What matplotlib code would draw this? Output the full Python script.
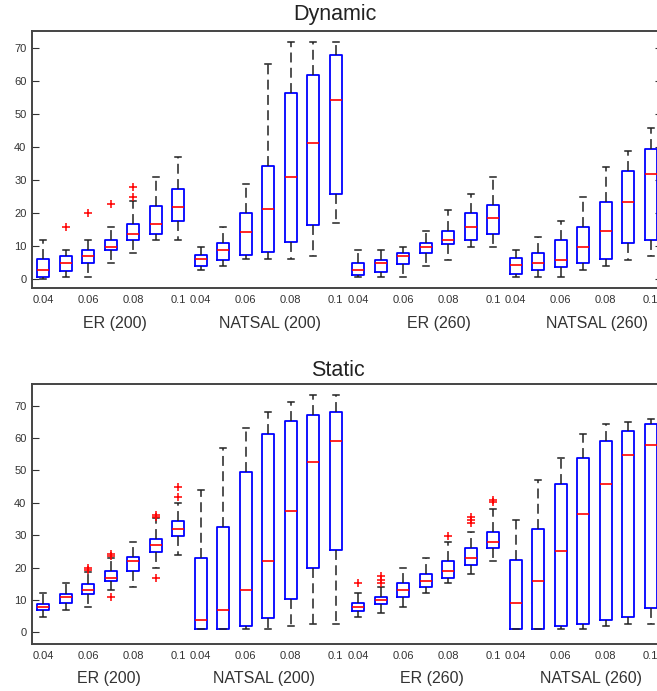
"""
Boxplots of outbreak size vs. transmission rate, dynamic and static networks.
"""

import numpy as np
import matplotlib
matplotlib.use("Agg")
import matplotlib.pyplot as plt
from matplotlib.transforms import blended_transform_factory

plt.rcParams["font.family"] = ["Liberation Sans", "DejaVu Sans"]

rates = ["0.04", "0.05", "0.06", "0.07", "0.08", "0.09", "0.1"]
groups = ["ER (200)", "NATSAL (200)", "ER (260)", "NATSAL (260)"]
tick_labels = ["0.04", "", "0.06", "", "0.08", "", "0.1"]
yticks = [0, 10, 20, 30, 40, 50, 60, 70]

# --- Dynamic ---
dyn_lo = [0, 0.8, 0.8, 5.0, 8.0, 11.9, 11.9,
          2.8, 4.0, 6.1, 6.1, 6.1, 7.1, 17.0,
          0.8, 0.8, 0.8, 4.0, 5.9, 9.9, 9.9,
          0.8, 0.8, 0.8, 2.9, 4.0, 5.9, 7.0]
dyn_q1 = [0.7, 2.4, 4.9, 8.9, 11.8, 13.8, 17.8,
          4.0, 6.0, 7.3, 8.3, 11.2, 16.5, 25.8,
          1.3, 2.3, 4.8, 7.9, 10.8, 11.8, 13.8,
          1.7, 2.7, 3.9, 4.9, 6.2, 10.9, 11.8]
dyn_med = [2.8, 5.0, 7.1, 9.9, 13.8, 16.8, 22.0,
           6.1, 9.0, 14.5, 21.3, 31.0, 41.2, 54.3,
           2.8, 5.0, 7.0, 9.9, 11.8, 15.8, 18.7,
           4.4, 5.1, 5.9, 9.9, 14.8, 23.3, 31.9]
dyn_q3 = [6.1, 7.1, 9.0, 11.9, 16.9, 22.3, 27.3,
          7.4, 10.9, 20.1, 34.4, 56.5, 61.9, 68.0,
          5.0, 5.9, 8.1, 10.9, 14.8, 20.1, 22.4,
          6.4, 8.1, 11.9, 15.8, 23.3, 32.8, 39.4]
dyn_hi = [11.9, 8.9, 11.9, 15.8, 23.8, 30.9, 37.1,
          9.9, 15.9, 28.9, 65.1, 72.0, 72.0, 71.9,
          8.9, 8.9, 9.9, 14.8, 21.0, 25.8, 30.9,
          8.9, 12.9, 17.8, 24.9, 33.9, 39.0, 45.8]
dyn_out = [[], [15.8], [20.0], [22.9], [24.8, 27.9], [], [],
           [], [], [], [], [], [], [],
           [], [], [], [], [], [], [],
           [], [], [], [], [], [], []]

# --- Static ---
sta_lo = [4.8, 6.9, 7.9, 13.0, 14.0, 20.0, 24.0,
          0.9, 0.9, 0.9, 0.9, 2.0, 2.7, 2.7,
          4.8, 5.9, 7.9, 12.0, 15.1, 17.9, 21.9,
          1.0, 1.0, 1.0, 1.0, 2.0, 2.7, 2.7]
sta_q1 = [6.9, 9.0, 11.9, 15.8, 19.0, 24.9, 29.9,
          0.9, 0.9, 2.0, 4.4, 10.2, 19.9, 25.4,
          6.7, 8.8, 10.9, 14.0, 16.7, 20.9, 25.9,
          1.0, 1.0, 1.85, 2.7, 3.7, 4.7, 7.4]
sta_med = [7.9, 11.0, 13.0, 16.8, 22.0, 27.1, 31.9,
           3.8, 6.9, 13.1, 21.9, 37.5, 52.5, 59.0,
           7.9, 10.0, 13.1, 15.8, 18.9, 23.0, 27.8,
           9.0, 15.8, 25.1, 36.4, 45.7, 54.9, 58.0]
sta_q3 = [8.85, 11.9, 15.0, 18.9, 23.4, 28.9, 34.4,
          22.9, 32.6, 49.4, 61.1, 65.2, 67.0, 68.0,
          9.0, 11.0, 15.1, 18.0, 22.0, 26.1, 31.0,
          22.3, 31.9, 45.7, 53.9, 59.0, 62.1, 64.2]
sta_hi = [12.0, 15.1, 18.5, 23.1, 27.8, 35.3, 40.0,
          44.0, 57.0, 63.2, 67.9, 71.1, 73.2, 73.2,
          12.0, 14.1, 19.8, 23.0, 27.8, 31.0, 38.1,
          34.7, 47.0, 53.9, 61.1, 64.4, 65.1, 65.8]
sta_out = [[], [], [20.0, 19.1], [24.2, 23.6, 10.9], [], [36.2, 35.6, 16.7], [45.0, 41.9],
           [], [], [], [], [], [], [],
           [15.1], [17.3, 16.3, 15.3], [], [], [29.9], [35.5, 34.6, 33.7], [41.0, 40.1],
           [], [], [], [], [], [], []]


def make_stats(lo, q1, med, q3, hi, out):
    return [dict(whislo=a, q1=b, med=c, q3=d, whishi=e, fliers=f)
            for a, b, c, d, e, f in zip(lo, q1, med, q3, hi, out)]


fig = plt.figure(figsize=(6.57, 6.91), dpi=100)
W, H = 657.0, 691.0

# title, stats, (top, bottom px), ylim, title pos px, group label baseline + x, right ticks
panels = [
    ("Dynamic", make_stats(dyn_lo, dyn_q1, dyn_med, dyn_q3, dyn_hi, dyn_out),
     (31, 288), (-2.6, 75.2), (335, 20), (328.3, [4.19, 11.08, 18.58, 25.63]), True),
    ("Static", make_stats(sta_lo, sta_q1, sta_med, sta_q3, sta_hi, sta_out),
     (384.3, 644.3), (-3.7, 76.6), (338, 376), (683.3, [3.91, 10.80, 18.29, 25.33]), False),
]

left_px, right_px = 32, 662
ink = "#333333"

for title, stats, (top, bot), ylim, (tx, ty), (gy, gx), rticks in panels:
    ax = fig.add_axes([left_px / W, 1 - bot / H, (right_px - left_px) / W, (bot - top) / H])
    pos = np.arange(1, len(stats) + 1)
    ax.bxp(stats, positions=pos, widths=0.54, capwidths=0.27,
           boxprops=dict(color="#0000ff", linewidth=1.3),
           medianprops=dict(color="#ff0000", linewidth=1.2),
           whiskerprops=dict(color="#222222", linewidth=1.1, linestyle=(0, (6.5, 3.5))),
           capprops=dict(color="#222222", linewidth=1.1),
           flierprops=dict(marker="+", markeredgecolor="#ff0000", markersize=5.5,
                           markeredgewidth=1.1, linestyle="none"))
    ax.set_xlim(0.5, len(stats) + 0.5)
    ax.set_ylim(*ylim)
    ax.set_yticks(yticks)
    ax.set_xticks(pos)
    ax.set_xticklabels(tick_labels * len(groups))
    ax.tick_params(axis="y", direction="in", length=5, right=rticks, pad=4,
                   labelsize=8, labelcolor=ink, color=ink)
    ax.tick_params(axis="x", length=0, pad=5, labelsize=8, labelcolor=ink)
    for sp in ax.spines.values():
        sp.set_color("#444444")
        sp.set_linewidth(1.4)

    trans = blended_transform_factory(ax.transData, fig.transFigure)
    for name, x in zip(groups, gx):
        ax.text(x, 1 - gy / H, name, transform=trans, ha="center", va="baseline",
                fontsize=11.5, color=ink)
    fig.text(tx / W, 1 - ty / H, title, ha="center", va="baseline",
             fontsize=15.5, color="#222222")

fig.savefig("out.png", dpi=100)
